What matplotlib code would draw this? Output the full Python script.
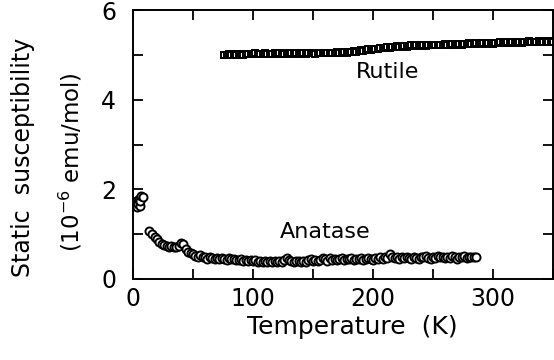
import matplotlib
matplotlib.use("Agg")
import matplotlib.pyplot as plt
from matplotlib.ticker import MultipleLocator

plt.rcParams['font.family'] = ['DejaVu Sans']
plt.rcParams['mathtext.default'] = 'regular'

# ---- data ----
anatase_T = [2, 2.5, 3, 3.5, 4, 4.5, 5, 5.5, 6, 7, 8,
             13, 16, 18, 20, 22, 24, 26, 28, 30, 32, 34, 36, 38, 40, 42, 44, 46, 48,
             50, 52, 54, 56, 58, 60, 62, 64, 66, 68, 70, 72, 74, 76, 78, 80, 82, 84,
             86, 88, 90, 92, 94, 96, 98, 100, 102, 104, 106, 108, 110, 112, 114, 116,
             118, 120, 122, 124, 126, 128, 130, 132, 134, 136, 138, 140, 142, 144, 146,
             148, 150, 152, 154, 156, 158, 160, 162, 164, 166, 168, 170, 172, 174, 176,
             178, 180, 182, 184, 186, 188, 190, 192, 194, 196, 198, 200, 202, 204, 206,
             208, 210, 212, 214, 216, 218, 220, 222, 224, 226, 228, 230, 232, 234, 236,
             238, 240, 242, 244, 246, 248, 250, 252, 254, 256, 258, 260, 262, 264, 266,
             268, 270, 272, 274, 276, 278, 280, 282, 284, 286]
anatase_chi = [1.65, 1.75, 1.70, 1.60, 1.72, 1.68, 1.78, 1.62, 1.75, 1.85, 1.82,
               1.07, 1.00, 0.93, 0.90, 0.82, 0.78, 0.75, 0.74, 0.72, 0.73, 0.71, 0.72, 0.74, 0.80, 0.77, 0.68, 0.60, 0.57,
               0.55, 0.52, 0.50, 0.53, 0.48, 0.50, 0.45, 0.48, 0.47, 0.44, 0.46, 0.45, 0.47, 0.44, 0.42, 0.46, 0.44, 0.45,
               0.43, 0.42, 0.44, 0.41, 0.43, 0.41, 0.42, 0.40, 0.43, 0.38, 0.40, 0.39, 0.41, 0.38, 0.40, 0.39,
               0.41, 0.39, 0.40, 0.38, 0.42, 0.47, 0.43, 0.40, 0.39, 0.41, 0.40, 0.38, 0.41, 0.39, 0.42,
               0.44, 0.41, 0.43, 0.40, 0.42, 0.47, 0.44, 0.41, 0.46, 0.43, 0.45, 0.42, 0.44, 0.46, 0.43,
               0.45, 0.44, 0.47, 0.42, 0.45, 0.44, 0.46, 0.43, 0.45, 0.47, 0.44, 0.42, 0.46, 0.44, 0.48,
               0.45, 0.50, 0.47, 0.56, 0.50, 0.46, 0.49, 0.45, 0.48, 0.46, 0.50, 0.47, 0.44, 0.49, 0.47,
               0.45, 0.50, 0.48, 0.52, 0.47, 0.45, 0.49, 0.46, 0.51, 0.48, 0.50, 0.46, 0.49, 0.47, 0.52,
               0.48, 0.45, 0.50, 0.48, 0.52, 0.47, 0.49, 0.50, 0.48, 0.50]

rutile_T = [76, 78, 80, 82, 84, 86, 88, 90, 92, 94,
            96, 98, 100, 102, 104, 106, 108, 110, 112, 114,
            116, 118, 120, 122, 124, 126, 128, 130, 132, 134,
            136, 138, 140, 142, 144, 146, 148, 150, 152, 154,
            156, 158, 160, 162, 164, 166, 168, 170, 172, 174,
            176, 178, 180, 182, 184, 186, 188, 190, 192, 194,
            196, 198, 200, 202, 204, 206, 208, 210, 212, 214,
            216, 218, 220, 222, 224, 226, 228, 230, 232, 234,
            236, 238, 240, 242, 244, 246, 248, 250, 252, 254,
            256, 258, 260, 262, 264, 266, 268, 270, 272, 274,
            276, 278, 280, 282, 284, 286, 288, 290, 292, 294,
            296, 298, 300, 302, 304, 306, 308, 310, 312, 314,
            316, 318, 320, 322, 324, 326, 328, 330, 332, 334,
            336, 338, 340, 342, 344, 346, 348, 350]
rutile_chi = [5.00, 4.99, 5.01, 5.00, 5.01, 5.00, 5.02, 5.01, 5.00, 5.02,
              5.01, 5.02, 5.01, 5.03, 5.02, 5.01, 5.02, 5.03, 5.02, 5.01,
              5.02, 5.03, 5.02, 5.03, 5.02, 5.01, 5.03, 5.02, 5.03, 5.02,
              5.03, 5.02, 5.03, 5.04, 5.02, 5.03, 5.04, 5.03, 5.02, 5.04,
              5.03, 5.04, 5.05, 5.03, 5.04, 5.05, 5.04, 5.06, 5.05, 5.04,
              5.06, 5.05, 5.07, 5.06, 5.08, 5.07, 5.09, 5.10, 5.09, 5.11,
              5.12, 5.11, 5.13, 5.14, 5.13, 5.15, 5.16, 5.15, 5.17, 5.16,
              5.18, 5.17, 5.19, 5.18, 5.20, 5.19, 5.18, 5.20, 5.21, 5.19,
              5.21, 5.20, 5.22, 5.21, 5.20, 5.22, 5.21, 5.23, 5.22, 5.21,
              5.23, 5.22, 5.24, 5.23, 5.22, 5.24, 5.23, 5.25, 5.24, 5.23,
              5.25, 5.24, 5.26, 5.25, 5.24, 5.26, 5.25, 5.27, 5.26, 5.25,
              5.27, 5.26, 5.25, 5.27, 5.26, 5.28, 5.27, 5.26, 5.28, 5.27,
              5.28, 5.27, 5.29, 5.28, 5.27, 5.29, 5.28, 5.30, 5.29, 5.28,
              5.29, 5.30, 5.28, 5.29, 5.30, 5.29, 5.30, 5.29]

x_ticks = [0, 100, 200, 300]
y_ticks = [0, 2, 4, 6]

fig = plt.figure(figsize=(5.54, 3.6), dpi=100)
ax = fig.add_axes([133/554, 81/360, 420/554, 269/360])

ax.plot(rutile_T, rutile_chi, linestyle='none', marker='s', markersize=5.0,
        markerfacecolor='white', markeredgecolor='black', markeredgewidth=1.4)
ax.plot(anatase_T, anatase_chi, linestyle='none', marker='o', markersize=5.8,
        markerfacecolor='white', markeredgecolor='black', markeredgewidth=1.4)

ax.set_xlim(0, 350)
ax.set_ylim(0, 6)
ax.set_xticks(x_ticks)
ax.set_yticks(y_ticks)
ax.xaxis.set_minor_locator(MultipleLocator(50))
ax.yaxis.set_minor_locator(MultipleLocator(1))
ax.tick_params(which='both', direction='in', top=True, right=True, length=7, width=1.3,
               labelsize=17)
ax.tick_params(axis='x', which='major', pad=6)
ax.tick_params(axis='y', which='major', pad=12)
for s in ax.spines.values():
    s.set_linewidth(1.4)

ax.text(212, 4.62, 'Rutile', ha='center', va='center', fontsize=16)
ax.text(160, 1.05, 'Anatase', ha='center', va='center', fontsize=16)

ax.set_xlabel('Temperature  (K)', fontsize=18)
ax.xaxis.set_label_coords((352 - 133) / 420, -(327 - 279) / 269)
ax.xaxis.label.set_va('center')

fig.text(23/554, 1 - 157/360, 'Static  susceptibility', rotation=90,
         ha='center', va='center', fontsize=17)
fig.text(71/554, 1 - 162/360, r'(10$^{\mathregular{-6}}$ emu/mol)', rotation=90,
         ha='center', va='center', fontsize=16.5)

fig.savefig('out.png', dpi=100)
